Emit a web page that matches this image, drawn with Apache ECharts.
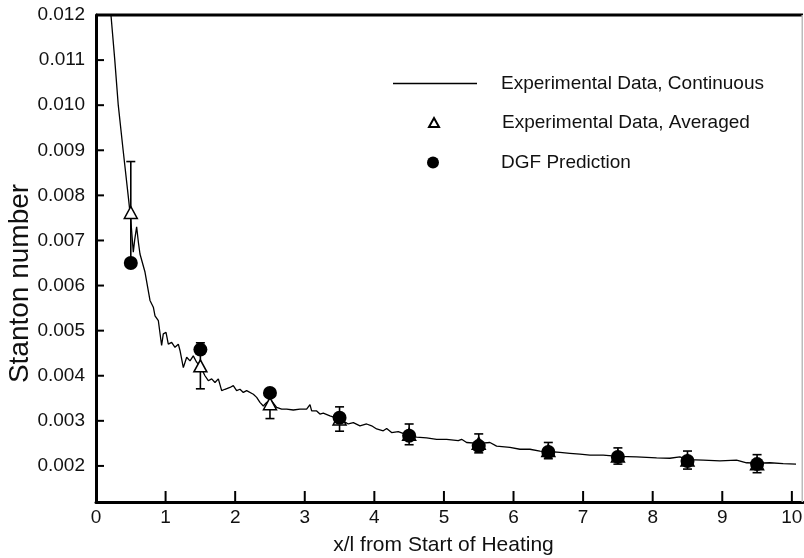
<!DOCTYPE html>
<html>
<head>
<meta charset="utf-8">
<script src="https://cdn.jsdelivr.net/npm/echarts@6/dist/echarts.min.js"></script>
<style>
  html, body { margin: 0; padding: 0; background: #fff; }
  #wrap { position: relative; width: 804px; height: 558px; }
  #chart, #ticks { position: absolute; left: 0; top: 0; width: 804px; height: 558px; }
  #ticks { pointer-events: none; }
</style>
</head>
<body>
<div id="wrap">
  <div id="chart"></div>
  <div id="ticks"></div>
</div>
<script>
// Continuous Stanton-number trace along the heated plate
const contX = [0.215, 0.27, 0.32, 0.39, 0.47, 0.50, 0.536, 0.555, 0.584, 0.61, 0.632, 0.704, 0.776, 0.824, 0.848, 0.872, 0.896, 0.943, 0.967, 1.006, 1.039, 1.087, 1.135, 1.183, 1.207, 1.255, 1.303, 1.351, 1.398, 1.446, 1.509, 1.566, 1.614, 1.662, 1.710, 1.758, 1.806, 1.853, 1.925, 1.973, 2.021, 2.069, 2.117, 2.165, 2.261, 2.309, 2.356, 2.404, 2.452, 2.524, 2.596, 2.668, 2.740, 2.835, 2.931, 3.027, 3.075, 3.099, 3.171, 3.218, 3.266, 3.362, 3.458, 3.55, 3.625, 3.698, 3.793, 3.889, 3.961, 4.033, 4.128, 4.177, 4.248, 4.344, 4.45, 4.607, 4.751, 4.895, 5.039, 5.206, 5.254, 5.326, 5.5, 5.661, 5.757, 5.948, 6.092, 6.236, 6.379, 6.5, 6.667, 6.810, 6.954, 7.098, 7.289, 7.5, 7.768, 8.056, 8.247, 8.391, 8.5, 8.726, 8.966, 9.205, 9.349, 9.5, 9.684, 9.875, 10.06];
const contSt = [0.0120, 0.0110, 0.0100, 0.0090, 0.00789, 0.00745, 0.00674, 0.00700, 0.00730, 0.00695, 0.00670, 0.00630, 0.00567, 0.00552, 0.00533, 0.00533, 0.00522, 0.00467, 0.00493, 0.00496, 0.00470, 0.00474, 0.00463, 0.00470, 0.00456, 0.00418, 0.00441, 0.00433, 0.00444, 0.00430, 0.00418, 0.00400, 0.00389, 0.00393, 0.00385, 0.00393, 0.00367, 0.00370, 0.00374, 0.00378, 0.00367, 0.00370, 0.00363, 0.00367, 0.00359, 0.00352, 0.00341, 0.00333, 0.00341, 0.00344, 0.00330, 0.00326, 0.00326, 0.00324, 0.00326, 0.00326, 0.00336, 0.00322, 0.00322, 0.00315, 0.00317, 0.00311, 0.00306, 0.00300, 0.00293, 0.00296, 0.00289, 0.00293, 0.00289, 0.00282, 0.00278, 0.00283, 0.00274, 0.00276, 0.00270, 0.00264, 0.00262, 0.00259, 0.00259, 0.00256, 0.00259, 0.00252, 0.00250, 0.00252, 0.00244, 0.00241, 0.00237, 0.00237, 0.00233, 0.00232, 0.00230, 0.00228, 0.00226, 0.00224, 0.00224, 0.00221, 0.00220, 0.00218, 0.00217, 0.00220, 0.00214, 0.00213, 0.00211, 0.00213, 0.00207, 0.00206, 0.00207, 0.00205, 0.00204];

// Averaged experimental points with their uncertainty (half-width)
const avgX = [0.5, 1.5, 2.5, 3.5, 4.5, 5.5, 6.5, 7.5, 8.5, 9.5];
const avgSt = [0.00762, 0.00422, 0.00338, 0.00304, 0.00270, 0.00250, 0.00234, 0.00222, 0.00213, 0.00205];
const avgErr = [0.00113, 0.00051, 0.00033, 0.00027, 0.00023, 0.00021, 0.00018, 0.00018, 0.00020, 0.00020];

// DGF model prediction
const dgfX = [0.5, 1.5, 2.5, 3.5, 4.5, 5.5, 6.5, 7.5, 8.5, 9.5];
const dgfSt = [0.0065, 0.00458, 0.00362, 0.00307, 0.00267, 0.00244, 0.00231, 0.00220, 0.00211, 0.00204];

const xTicks = [0, 1, 2, 3, 4, 5, 6, 7, 8, 9, 10];
const yTicks = [0.002, 0.003, 0.004, 0.005, 0.006, 0.007, 0.008, 0.009, 0.010, 0.011, 0.012];

const names = ['Experimental Data, Continuous', 'Experimental Data, Averaged', 'DGF Prediction'];

const FONT = 'Liberation Sans, Arial, Helvetica, sans-serif';
const X_MIN = 0, X_MAX = 10.16, Y_MIN = 0.0012, Y_MAX = 0.012;
const GRID = { left: 96, right: 1, top: 15, bottom: 56, outerBoundsMode: 'none', containLabel: false };

const chart = echarts.init(document.getElementById('chart'));

const legendText = { fontFamily: FONT, fontSize: 19, color: '#111' };

chart.setOption({
  animation: false,
  grid: GRID,
  legend: [{
    orient: 'vertical', left: 393, top: 74, padding: 0, itemWidth: 84, itemHeight: 1.5,
    selectedMode: false, icon: 'rect',
    textStyle: Object.assign({ padding: [0, 0, 0, 19] }, legendText),
    data: [names[0]]
  }, {
    orient: 'vertical', left: 428, top: 113, padding: 0, itemWidth: 10, itemHeight: 9,
    selectedMode: false,
    textStyle: Object.assign({ padding: [0, 0, 0, 58] }, legendText),
    data: [{ name: names[1], icon: 'triangle' }]
  }, {
    orient: 'vertical', left: 427, top: 153, padding: 0, itemWidth: 12, itemHeight: 12,
    selectedMode: false,
    textStyle: Object.assign({ padding: [0, 0, 0, 57] }, legendText),
    data: [{ name: names[2], icon: 'circle' }]
  }],
  xAxis: {
    type: 'value', min: X_MIN, max: X_MAX,
    name: 'x/l from Start of Heating', nameLocation: 'middle', nameGap: 33, nameMoveOverlap: false,
    nameTextStyle: { fontFamily: FONT, fontSize: 21, color: '#111', padding: [0, 12, 0, 0] },
    axisLine: { show: true, onZero: false, lineStyle: { color: '#000', width: 3 } },
    axisTick: { show: false },
    axisLabel: { customValues: xTicks, margin: 6, fontFamily: FONT, fontSize: 19, color: '#111' },
    splitLine: { show: false }
  },
  yAxis: {
    type: 'value', min: Y_MIN, max: Y_MAX,
    name: 'Stanton number', nameLocation: 'middle', nameGap: 62, nameRotate: 90, nameMoveOverlap: false,
    nameTextStyle: { fontFamily: FONT, fontSize: 28, color: '#111', padding: [0, 50, 0, 0] },
    axisLine: { show: true, onZero: false, lineStyle: { color: '#000', width: 3 } },
    axisTick: { show: false },
    axisLabel: { customValues: yTicks, margin: 11, fontFamily: FONT, fontSize: 19, color: '#111',
      formatter: v => v.toFixed(3) },
    splitLine: { show: false }
  },
  series: [{
    name: names[0],
    type: 'line',
    data: contX.map((x, i) => [x, contSt[i]]),
    showSymbol: false,
    symbol: 'none',
    lineStyle: { color: '#000', width: 1.3 },
    itemStyle: { color: '#000' },
    z: 2
  }, {
    name: 'errorbars',
    type: 'custom',
    data: avgX.map((x, i) => [x, avgSt[i] - avgErr[i], avgSt[i] + avgErr[i]]),
    renderItem: (params, api) => {
      const x = api.value(0);
      const lo = api.coord([x, api.value(1)]);
      const hi = api.coord([x, api.value(2)]);
      const hw = 4.5;
      const style = { stroke: '#000', lineWidth: 1.6 };
      return {
        type: 'group',
        children: [
          { type: 'line', shape: { x1: lo[0], y1: lo[1], x2: hi[0], y2: hi[1] }, style },
          { type: 'line', shape: { x1: hi[0] - hw, y1: hi[1], x2: hi[0] + hw, y2: hi[1] }, style },
          { type: 'line', shape: { x1: lo[0] - hw, y1: lo[1], x2: lo[0] + hw, y2: lo[1] }, style }
        ]
      };
    },
    z: 3
  }, {
    name: names[1],
    type: 'scatter',
    data: avgX.map((x, i) => [x, avgSt[i]]),
    symbol: 'triangle',
    symbolSize: [13, 12],
    itemStyle: { color: '#fff', borderColor: '#000', borderWidth: 1.5, opacity: 1 },
    z: 4
  }, {
    name: names[2],
    type: 'scatter',
    data: dgfX.map((x, i) => [x, dgfSt[i]]),
    symbol: 'circle',
    symbolSize: 14,
    itemStyle: { color: '#000', opacity: 1 },
    z: 5
  }, {
    // frame: heavy top edge and light right edge
    name: 'frame',
    type: 'custom',
    data: [[X_MIN, Y_MAX, X_MAX, Y_MIN]],
    renderItem: (params, api) => {
      const tl = api.coord([api.value(0), api.value(1)]);
      const br = api.coord([api.value(2), api.value(3)]);
      return {
        type: 'group',
        children: [
          { type: 'line', shape: { x1: tl[0], y1: tl[1], x2: br[0], y2: tl[1] },
            style: { stroke: '#000', lineWidth: 3 } },
          { type: 'line', shape: { x1: br[0] - 0.75, y1: tl[1], x2: br[0] - 0.75, y2: br[1] },
            style: { stroke: '#bbb', lineWidth: 1.5 } }
        ]
      };
    },
    z: 10
  }]
});

// Transparent layer on top carrying the inward major ticks on the same scales
const tickChart = echarts.init(document.getElementById('ticks'));
tickChart.setOption({
  animation: false,
  grid: GRID,
  xAxis: { type: 'value', min: X_MIN, max: X_MAX, show: false },
  yAxis: { type: 'value', min: Y_MIN, max: Y_MAX, show: false },
  series: [{
    type: 'custom',
    data: xTicks.map(v => [v, Y_MIN]),
    renderItem: (params, api) => {
      const p = api.coord([api.value(0), api.value(1)]);
      return { type: 'line', shape: { x1: p[0], y1: p[1], x2: p[0], y2: p[1] - 11 },
        style: { stroke: '#000', lineWidth: 2 } };
    }
  }, {
    type: 'custom',
    data: yTicks.map(v => [X_MIN, v]),
    renderItem: (params, api) => {
      const p = api.coord([api.value(0), api.value(1)]);
      return { type: 'line', shape: { x1: p[0], y1: p[1], x2: p[0] + 8, y2: p[1] },
        style: { stroke: '#000', lineWidth: 2 } };
    }
  }]
});
</script>
</body>
</html>
